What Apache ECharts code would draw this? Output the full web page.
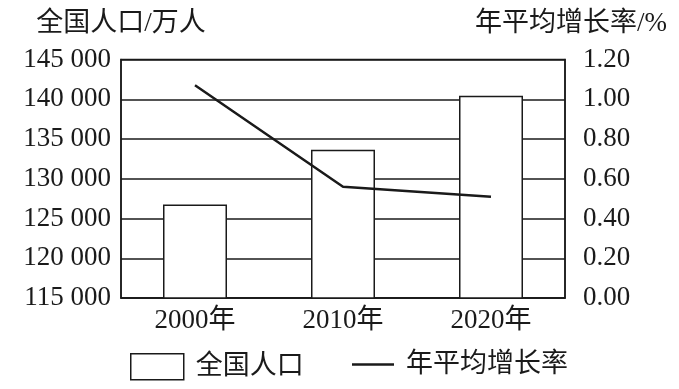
<!DOCTYPE html>
<html>
<head>
<meta charset="utf-8">
<script src="https://cdn.jsdelivr.net/npm/echarts@6/dist/echarts.min.js"></script>
<style>
html,body{margin:0;padding:0;background:#fff;}
#c{width:679px;height:389px;}
</style>
</head>
<body>
<div id="c"></div>
<script>
var categories = ['2000年', '2010年', '2020年'];
var population = [126760, 133660, 140440];
var growthRate = [1.07, 0.56, 0.51];
var leftTicks = [115000, 145000, 5000];
var rightTicks = [0, 1.2, 0.2];

var FONT = '"Liberation Serif", "Noto Sans CJK SC", serif';
var INK = '#1a1a1a';

var chart = echarts.init(document.getElementById('c'), null, {renderer: 'canvas'});
chart.setOption({
  animation: false,
  backgroundColor: '#fff',
  textStyle: {fontFamily: FONT, color: INK},
  grid: {left: 121, right: 114, top: 59.5, bottom: 91, show: true, borderColor: INK, borderWidth: 1.5, containLabel: false},
  legend: [
    {
      data: [{name: '全国人口', icon: 'rect'}], left: 125, top: 348, itemWidth: 53, itemHeight: 26,
      itemStyle: {color: '#fff', borderColor: INK, borderWidth: 1.5},
      textStyle: {fontFamily: FONT, fontSize: 27, color: INK, padding: [0, 0, 0, 7]}
    },
    {
      data: [{name: '年平均增长率', icon: 'rect'}], left: 347, top: 346, itemWidth: 42, itemHeight: 2.5,
      itemStyle: {color: INK, borderWidth: 0},
      lineStyle: {width: 0, opacity: 0},
      textStyle: {fontFamily: FONT, fontSize: 27, color: INK, padding: [0, 0, 0, 7]}
    }
  ],
  xAxis: {
    type: 'category', data: categories,
    axisLine: {lineStyle: {color: INK, width: 1.5}},
    axisTick: {show: false},
    axisLabel: {fontFamily: FONT, fontSize: 27, color: INK, margin: 9}
  },
  yAxis: [
    {
      type: 'value', min: leftTicks[0], max: leftTicks[1], interval: leftTicks[2],
      name: '全国人口/万人', nameLocation: 'end', nameGap: 22,
      nameTextStyle: {fontFamily: FONT, fontSize: 27, color: INK},
      axisLine: {show: true, lineStyle: {color: INK, width: 1.5}},
      axisTick: {show: false},
      splitLine: {show: true, lineStyle: {color: INK, width: 1.5}},
      axisLabel: {
        fontFamily: FONT, fontSize: 27, color: INK, margin: 10,
        formatter: function (v) {
          var s = String(Math.round(v));
          return s.slice(0, s.length - 3) + ' ' + s.slice(s.length - 3);
        }
      }
    },
    {
      type: 'value', min: rightTicks[0], max: rightTicks[1], interval: rightTicks[2],
      name: '年平均增长率/%', nameLocation: 'end', nameGap: 22,
      nameTextStyle: {fontFamily: FONT, fontSize: 27, color: INK, padding: [0, 0, 0, 12]},
      axisLine: {show: true, lineStyle: {color: INK, width: 1.5}},
      axisTick: {show: false},
      splitLine: {show: false},
      axisLabel: {
        fontFamily: FONT, fontSize: 27, color: INK, margin: 18,
        formatter: function (v) { return v.toFixed(2); }
      }
    }
  ],
  series: [
    {
      name: '全国人口', type: 'bar', data: population, barWidth: 64, yAxisIndex: 0,
      itemStyle: {color: '#fff', borderColor: INK, borderWidth: 1.5}
    },
    {
      name: '年平均增长率', type: 'line', data: growthRate, yAxisIndex: 1,
      symbol: 'none', lineStyle: {color: INK, width: 2.5}, itemStyle: {color: INK}, z: 5
    }
  ]
});
</script>
</body>
</html>
